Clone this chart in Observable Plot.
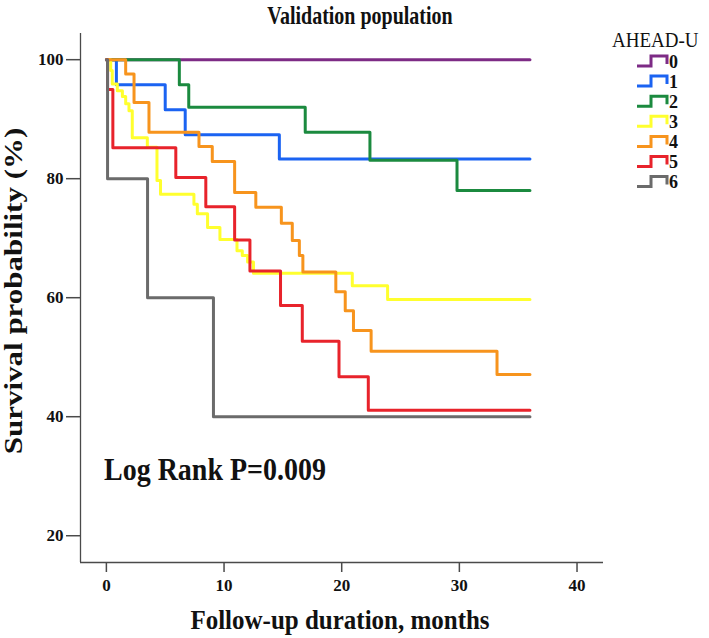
<!DOCTYPE html>
<html>
<head>
<meta charset="utf-8">
<script src="https://cdn.jsdelivr.net/npm/d3@7"></script>
<script src="https://cdn.jsdelivr.net/npm/@observablehq/plot@0.6"></script>
<style>
  html, body { margin: 0; padding: 0; background: #fff; }
  #chart { width: 709px; height: 638px; }
</style>
</head>
<body>
<div id="chart"></div>
<script>
// ---- data ----
const groups = ["0", "1", "2", "3", "4", "5", "6"];
const colors = ["#7D2B85", "#1B63F2", "#1B8A3F", "#FFFF2E", "#F7941D", "#E8232B", "#6B6B6B"];

const times0 = [0, 36];
const surv0  = [100, 100];

const times1 = [0, 0.85, 5.0, 6.7, 14.7, 36];
const surv1  = [100, 95.8, 91.6, 87.4, 83.3, 83.3];

const times2 = [0, 6.2, 7.0, 16.9, 22.4, 29.8, 36];
const surv2  = [100, 95.8, 92.0, 87.8, 83.1, 78.0, 78.0];

const times3 = [0, 0.37, 0.5, 0.93, 1.36, 1.64, 1.92, 2.2, 3.48, 4.3, 4.6, 7.44, 7.73, 8.6, 9.65, 11.1, 11.55, 12.0, 12.5, 20.9, 23.9, 36];
const surv3  = [100, 98.2, 95.9, 94.8, 93.8, 92.6, 91.4, 86.9, 85.3, 79.7, 77.4, 75.7, 74.1, 71.8, 69.8, 67.9, 67.1, 66.0, 64.1, 62.0, 59.7, 59.7];

const times4 = [0, 1.64, 2.35, 3.62, 7.87, 9.0, 10.9, 12.7, 14.87, 15.8, 16.4, 16.7, 19.5, 20.3, 21.0, 22.5, 33.2, 36];
const surv4  = [100, 97.6, 92.8, 87.8, 85.4, 82.9, 77.7, 75.2, 72.5, 69.6, 67.1, 64.3, 61.0, 57.8, 54.5, 51.0, 47.1, 47.1];

const times5 = [0, 0.1, 0.55, 5.9, 8.45, 10.9, 12.2, 14.8, 16.65, 19.77, 22.26, 36];
const surv5  = [100, 95, 85.2, 80.2, 75.3, 69.7, 64.5, 58.7, 52.7, 46.7, 41.1, 41.1];

const times6 = [0, 0.1, 3.5, 9.1, 36];
const surv6  = [100, 80, 60, 40, 40];

const xTicks = [0, 10, 20, 30, 40];
const yTicks = [20, 40, 60, 80, 100];

const titleText = "Validation population";
const xLabel = "Follow-up duration, months";
const yLabel = "Survival probability (%)";
const legendTitle = "AHEAD-U";
const statText = "Log Rank P=0.009";

// ---- build table ----
const allTimes = [times0, times1, times2, times3, times4, times5, times6];
const allSurv = [surv0, surv1, surv2, surv3, surv4, surv5, surv6];
const rows = groups.flatMap((g, i) => allTimes[i].map((t, j) => ({group: g, t, s: allSurv[i][j]})));

const xDom = [-2.2, 42.25];
const yDom = [15.5, 104.4];
const axisColor = "#4a4a4a";

const chart = Plot.plot({
  width: 709,
  height: 638,
  marginLeft: 80,
  marginRight: 106,
  marginTop: 33,
  marginBottom: 76,
  style: {fontFamily: "'Liberation Serif', 'Times New Roman', serif", fontSize: "17px", fontWeight: "bold", color: "#111", background: "#fff"},
  x: {domain: xDom},
  y: {domain: yDom},
  color: {domain: groups, range: colors},
  marks: [
    Plot.ruleX([xDom[0]], {stroke: axisColor, strokeWidth: 1.3}),
    Plot.ruleY([yDom[0]], {stroke: axisColor, strokeWidth: 1.3}),
    Plot.axisX({ticks: xTicks, tickSize: 10, tickPadding: 6, label: null, stroke: axisColor, strokeWidth: 1.5}),
    Plot.axisY({ticks: yTicks, tickSize: 14, tickPadding: 3, label: null, stroke: axisColor, strokeWidth: 1.5}),
    Plot.line(rows, {x: "t", y: "s", z: "group", stroke: "group", curve: "step-after", strokeWidth: 3})
  ]
});
document.getElementById("chart").appendChild(chart);

const svg = d3.select(chart);
const font = "'Liberation Serif', 'Times New Roman', serif";

svg.append("text").attr("transform", "translate(360,24) scale(1,1.3)").attr("text-anchor", "middle")
  .attr("font-family", font).attr("font-size", 20).attr("font-weight", "bold").attr("fill", "#111").text(titleText);

svg.append("text").attr("transform", "translate(340,629) scale(1,1.1)").attr("text-anchor", "middle")
  .attr("font-family", font).attr("font-size", 25).attr("font-weight", "bold").attr("fill", "#111").text(xLabel);

svg.append("text").attr("transform", "translate(22,291) rotate(-90) scale(1.24,1)").attr("text-anchor", "middle")
  .attr("font-family", font).attr("font-size", 25).attr("font-weight", "bold").attr("fill", "#111").text(yLabel);

svg.append("text").attr("transform", "translate(104,480) scale(1,1.1)").attr("text-anchor", "start")
  .attr("font-family", font).attr("font-size", 28).attr("font-weight", "bold").attr("fill", "#111").text(statText);

// legend
const lg = svg.append("g");
lg.append("text").attr("transform", "translate(612,47) scale(1,1.05)").attr("text-anchor", "start")
  .attr("font-family", font).attr("font-size", 19)
  .attr("font-weight", "normal").attr("fill", "#111").text(legendTitle);
groups.forEach((g, i) => {
  const cy = 61 + i * 20.1;
  const x0 = 637;
  lg.append("path")
    .attr("d", `M${x0},${cy + 5} H${x0 + 14} V${cy - 5} H${x0 + 30} V${cy + 3}`)
    .attr("fill", "none").attr("stroke", colors[i]).attr("stroke-width", 3);
  lg.append("text").attr("x", 669).attr("y", cy + 6.5).attr("text-anchor", "start")
    .attr("font-family", font).attr("font-size", 18)
    .attr("font-weight", "bold").attr("fill", "#111").text(g);
});
</script>
</body>
</html>
